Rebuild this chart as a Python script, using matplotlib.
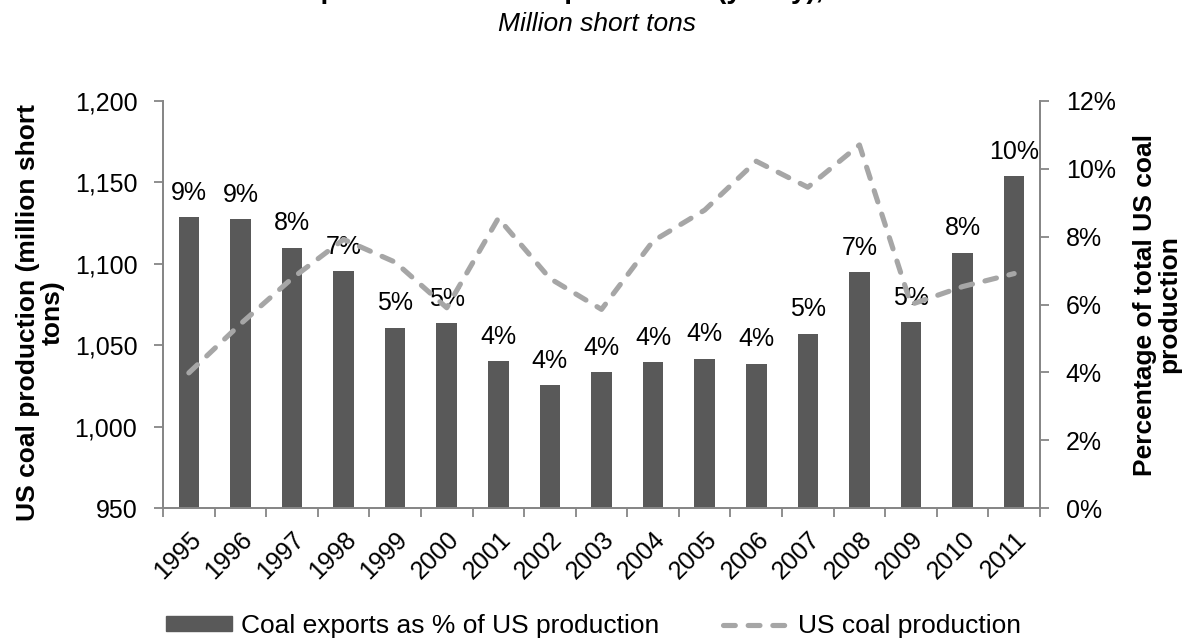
import numpy as np
import matplotlib
matplotlib.use("Agg")
import matplotlib.pyplot as plt
from matplotlib.patches import Patch
from matplotlib.lines import Line2D
from matplotlib.ticker import FuncFormatter, FixedLocator

plt.rcParams["font.family"] = ["Liberation Sans", "DejaVu Sans"]

# data
years = ["1995", "1996", "1997", "1998", "1999", "2000", "2001", "2002", "2003",
         "2004", "2005", "2006", "2007", "2008", "2009", "2010", "2011"]
export_pct = [8.57, 8.52, 7.67, 6.99, 5.32, 5.45, 4.32, 3.63, 4.01,
              4.30, 4.40, 4.26, 5.14, 6.95, 5.47, 7.53, 9.79]
export_labels = ["9%", "9%", "8%", "7%", "5%", "5%", "4%", "4%", "4%",
                 "4%", "4%", "4%", "5%", "7%", "5%", "8%", "10%"]
production = [1033, 1063, 1091, 1115, 1101, 1073, 1128, 1091, 1072,
              1114, 1133, 1163, 1147, 1173, 1075, 1086, 1094]

BAR = "#595959"
LINE = "#a6a6a6"
SPINE = "#868686"
FS = 18      # ticks and data labels
FS_BIG = 19  # axis titles, legend, subtitle
DASH = (0, (2.3, 2.5))

fig = plt.figure(figsize=(11.85, 6.42), dpi=100, facecolor="white")
ax = fig.add_axes([0.1376, 0.2087, 0.8776 - 0.1376, 0.8427 - 0.2087])
ax2 = ax.twinx()

x = np.arange(len(years))

# bars on the right (percent) axis
ax2.bar(x, export_pct, width=0.40, color=BAR, zorder=2)
for xi, v, lab in zip(x, export_pct, export_labels):
    ax2.annotate(lab, (xi, v), xytext=(0, 12.5), textcoords="offset points",
                 ha="center", va="baseline", fontsize=FS)

# production line on the left axis, drawn above the bars
ax.plot(x, production, color=LINE, lw=3.7, linestyle=DASH,
        dash_capstyle="round")
ax.set_zorder(ax2.get_zorder() + 1)
ax.patch.set_visible(False)

ax.set_xlim(-0.5, len(years) - 0.5)
ax.set_ylim(950, 1200)
ax.set_yticks(np.arange(950, 1201, 50))
ax.yaxis.set_major_formatter(FuncFormatter(lambda v, p: f"{v:,.0f}"))
ax2.set_ylim(0, 12)
ax2.set_yticks(np.arange(0, 13, 2))
ax2.yaxis.set_major_formatter(FuncFormatter(lambda v, p: f"{v:.0f}%"))

ax.set_xticks(x)
ax.set_xticklabels(years, rotation=45, ha="right", va="top",
                   rotation_mode="anchor", fontsize=FS)
ax.xaxis.set_minor_locator(FixedLocator(np.arange(-0.5, len(years), 1.0)))
ax.tick_params(axis="x", which="major", length=0, pad=14)
ax.tick_params(axis="x", which="minor", length=6.5, color=SPINE, width=1.3)
ax.tick_params(axis="y", length=6.5, color=SPINE, width=1.3, labelsize=FS, pad=12)
ax2.tick_params(axis="y", length=6.5, color=SPINE, width=1.3, labelsize=FS, pad=12)

for a in (ax, ax2):
    a.spines["top"].set_visible(False)
    for s in ("left", "right", "bottom"):
        a.spines[s].set_color(SPINE)
        a.spines[s].set_linewidth(1.3)

ax.set_ylabel("US coal production (million short\ntons)", fontsize=FS_BIG,
              fontweight="bold", linespacing=1.0)
ax.yaxis.label.set_verticalalignment("center")
ax.yaxis.set_label_coords(-0.140, 0.48)
ax2.set_ylabel("Percentage of total US coal\nproduction", fontsize=FS_BIG,
               fontweight="bold", linespacing=1.0)
ax2.yaxis.label.set_verticalalignment("center")
ax2.yaxis.set_label_coords(1.134, 0.50)

# title clipped at the top edge, subtitle below it
fig.text(0.5, 1 + 1.5 / 642, "Coal exports and US coal production (yearly), 1995-2011",
         ha="center", va="baseline", fontsize=FS_BIG + 1, fontweight="bold")
fig.text(0.504, 1 - 24 / 642, "Million short tons", ha="center", va="center",
         fontsize=FS_BIG, style="italic")

handles = [Patch(facecolor=BAR, edgecolor=BAR),
           Line2D([0], [0], color=LINE, lw=3.7, linestyle=DASH,
                  dash_capstyle="round")]
fig.legend(handles, ["Coal exports as % of US production", "US coal production"],
           loc="center", bbox_to_anchor=(0.501, 1 - 626 / 642), ncol=2,
           frameon=False, fontsize=FS_BIG, handlelength=2.5, handleheight=0.5,
           columnspacing=2.4, handletextpad=0.35)

fig.savefig("out.png", dpi=100, facecolor="white")
plt.close(fig)
